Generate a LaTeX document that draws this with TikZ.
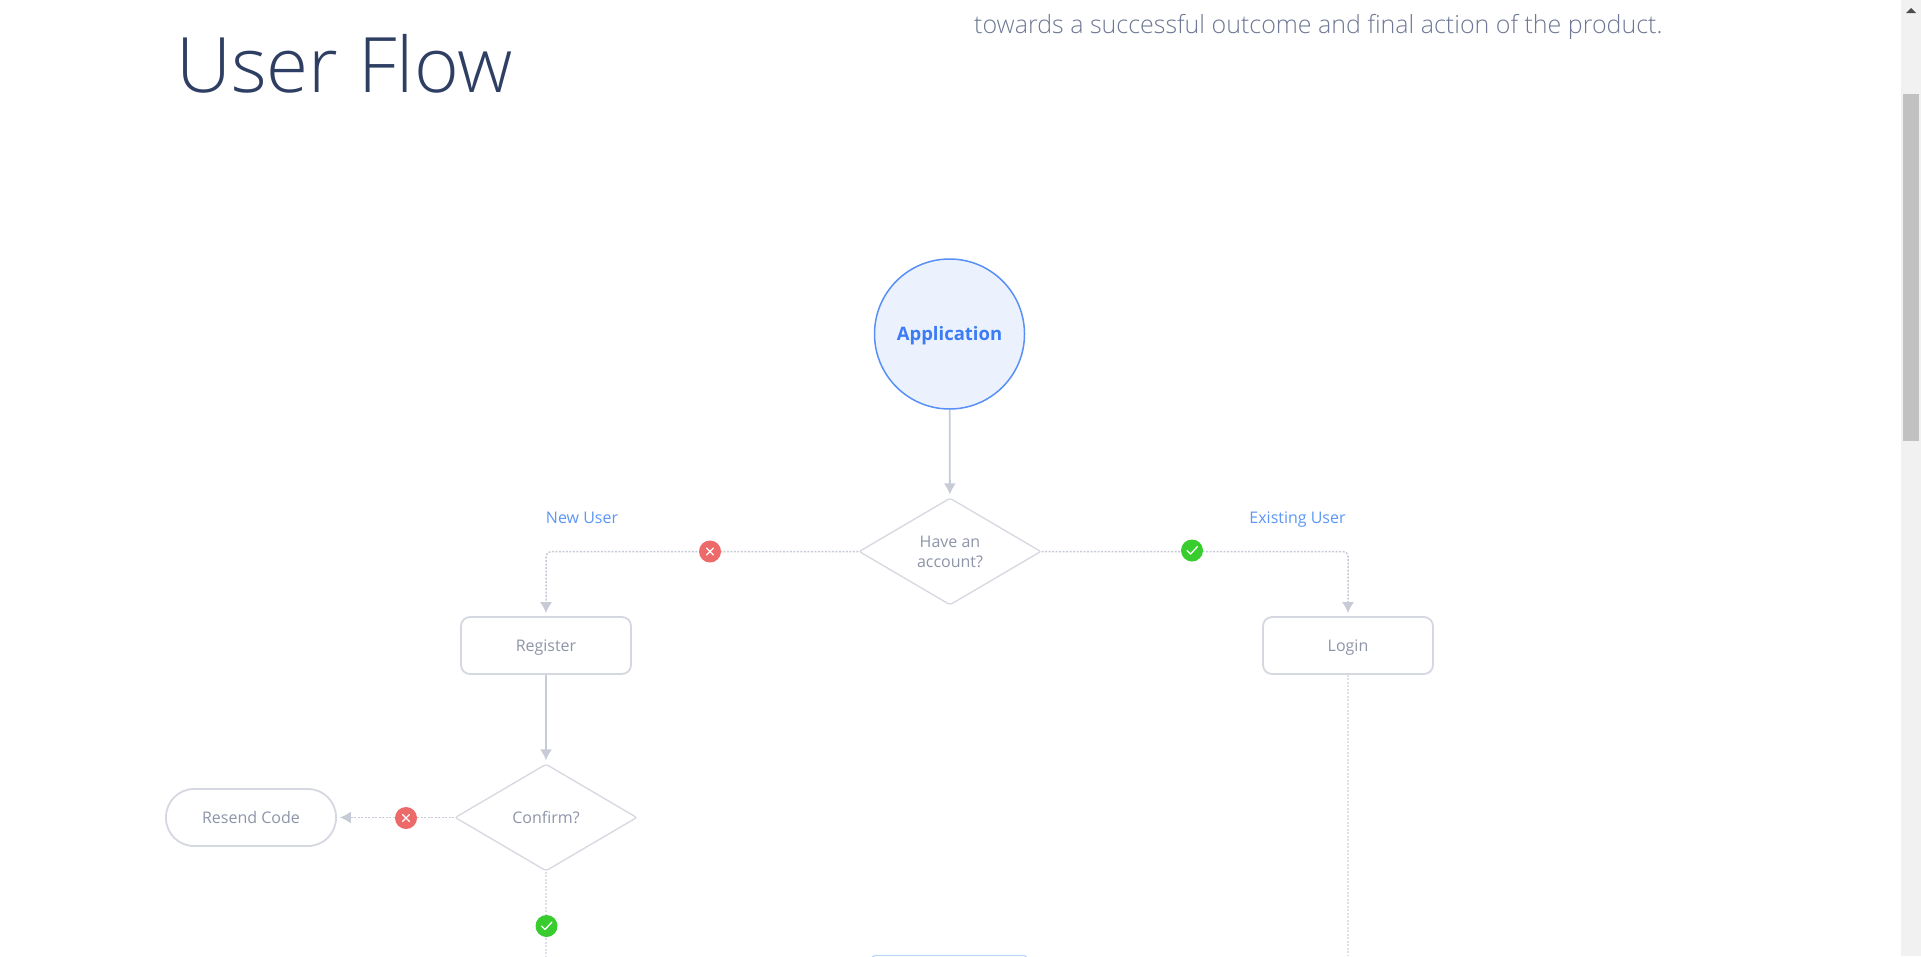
\documentclass[tikz,border=0pt]{standalone}
\usepackage{fontspec}
\setmainfont{Open Sans}
\newfontfamily\lightfont{Open Sans Light}
\usetikzlibrary{arrows.meta,shapes.geometric}
\definecolor{titlecol}{HTML}{2E3F63}
\definecolor{introcol}{HTML}{6F7995}
\definecolor{labelcol}{HTML}{8E95A8}
\definecolor{edgecol}{HTML}{C6CBD6}
\definecolor{boxcol}{HTML}{D5D8E0}
\definecolor{linecol}{HTML}{DDE0E6}
\definecolor{bluecol}{HTML}{3B7CF6}
\definecolor{branchcol}{HTML}{5C96F7}
\definecolor{appfill}{HTML}{EBF2FD}
\definecolor{nocol}{HTML}{EC6A6A}
\definecolor{okcol}{HTML}{38CC2E}
\definecolor{barcol}{HTML}{F1F1F1}
\definecolor{thumbcol}{HTML}{C1C1C1}
\tikzset{
  stepbox/.style={draw=boxcol,line width=1.8pt,rounded corners=9pt,minimum width=170pt,minimum height=57pt,inner sep=0pt,text height=11pt,text depth=0pt,text=labelcol,font=\fontsize{16}{19}\selectfont},
  endbox/.style={stepbox,rounded corners=28pt},
  askbox/.style={draw=boxcol,line width=1.3pt,diamond,rounded corners=2pt,aspect=1.7,minimum width=182pt,minimum height=107pt,inner sep=0pt,align=center,text=labelcol,font=\fontsize{16}{20}\selectfont},
  branch/.style={text height=11pt,text depth=0pt,text=branchcol,font=\fontsize{16}{18}\selectfont},
  flow/.style={draw=edgecol,line width=1.8pt,-{Latex[length=11pt,width=12pt]},shorten >=3pt},
  choice/.style={flow,line width=1.5pt,dash pattern=on 2pt off 1.5pt,rounded corners=5pt},
  plain/.style={draw=linecol,line width=1.8pt,dash pattern=on 2pt off 1.5pt},
  okbadge/.style={circle,fill=okcol,minimum size=22pt,inner sep=0pt,path picture={
    \draw[white,line width=1.3pt,line cap=round,line join=round] ([shift={(-5,0)}]path picture bounding box.center) -- ++(3.5,3.5) -- ++(7,-7.5);}},
  nobadge/.style={circle,fill=nocol,minimum size=22pt,inner sep=0pt,path picture={
    \draw[white,line width=1.3pt,line cap=round] ([shift={(-3.5,-3.5)}]path picture bounding box.center) -- ++(7,7) ++(-7,0) -- ++(7,-7);}}
}
\begin{document}
\begin{tikzpicture}[x=1pt,y=-1pt]
  \useasboundingbox (0,0) rectangle (1921,956);
  \fill[white] (0,0) rectangle (1921,956);
  \fill[barcol] (1901,0) rectangle (1921,956);
  \fill[thumbcol] (1903,94) rectangle (1919,441);
  \fill[black!70] (1906,13) -- (1911,8) -- (1916,13) -- cycle;

  \node [anchor=base west,inner sep=0pt,text=titlecol,font=\fontsize{76.5}{80}\selectfont\lightfont] (heading) at (176,92) {User Flow};
  \node [anchor=base west,inner sep=0pt,text=introcol,font=\fontsize{25}{28}\selectfont\lightfont] (intro) at (974,33) {towards a successful outcome and final action of the product.};

  \node [circle,draw=bluecol!85!white,fill=appfill,line width=1.5pt,minimum size=150pt,inner sep=0pt,text height=12pt,text depth=0pt,text=bluecol,font=\fontsize{18.5}{22}\selectfont\bfseries] (app) at (949.5,334) {Application};
  \node [askbox] (account) at (950,551.5) {Have an\\ account?};
  \node [stepbox] (register) at (546,645.5) {Register};
  \node [stepbox] (login) at (1348,645.5) {Login};
  \node [askbox] (confirm) at (546,817.5) {Confirm?};
  \node [endbox] (resend) at (251,817.5) {Resend Code};
  \node [branch] (newuser) at (582,518) {New User};
  \node [branch] (existing) at (1297.5,518) {Existing User};
  \coordinate (loginend) at (1348,956);
  \coordinate (confirmend) at (546,956);

  \draw [flow] (app) -- (account);
  \draw [choice] (account.west) -| (register.north);
  \draw [choice] (account.east) -| (login.north);
  \draw [flow] (register) -- (confirm);
  \draw [choice] (confirm) -- (resend);
  \draw [plain] (login) -- (loginend);
  \draw [plain] (confirm) -- (confirmend);

  \node [nobadge] (nonew) at (710,551.5) {};
  \node [okbadge] (okold) at (1192,550.5) {};
  \node [nobadge] (noconfirm) at (406,818) {};
  \node [okbadge] (okconfirm) at (546.5,926) {};

  \draw [rounded corners=3pt,draw=branchcol!40!white,line width=1.2pt] (872,990) -- (872,955.5) -- (1027,955.5) -- (1027,990);
\end{tikzpicture}
\end{document}
